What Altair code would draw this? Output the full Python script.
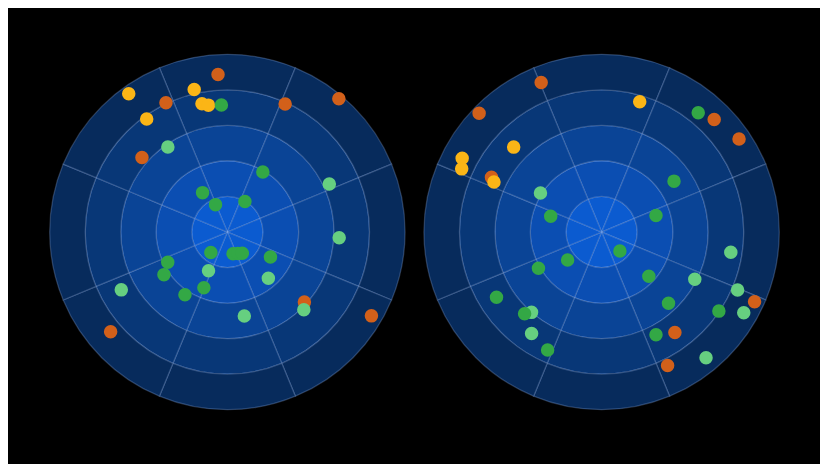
import altair as alt
import pandas as pd

# ---- grid: 8 sectors x 5 rings ----
sector_starts = [-22.5, 22.5, 67.5, 112.5, 157.5, 202.5, 247.5, 292.5]
sector_width = 45
ring_levels = [1, 2, 3, 4, 5]
ring_colors = ["#0b5bd0", "#0b4eb2", "#0a4496", "#083777", "#072b5c"]

# ---- points: angle (deg, clockwise from north), radius (ring units), group ----
groups = ["Group 1", "Group 2", "Group 3", "Group 4"]
group_colors = ["#d2601a", "#fbb516", "#66cf80", "#33a845"]

left_angle = [356.6, 334.6, 24.3, 39.9, 311.1, 132.3, 120.2, 229.5,
              324.5, 346.9, 348.8, 351.5, 324.5,
              325.0, 64.8, 92.9, 206.0, 138.5, 241.4, 135.5, 168.6,
              357.3, 30.6, 327.8, 336.6, 29.9, 218.9, 165.3, 153.8, 144.9,
              120.0, 243.2, 236.1, 202.9, 214.1]
left_radius = [4.44, 4.03, 3.95, 4.89, 3.19, 2.93, 4.69, 4.32,
               4.78, 4.12, 3.68, 3.61, 3.91,
               2.92, 3.17, 3.15, 1.21, 1.74, 3.40, 3.07, 2.41,
               3.58, 1.96, 1.31, 0.84, 0.99, 0.74, 0.63, 0.67, 0.73,
               1.40, 1.88, 2.15, 1.70, 2.13]
left_group = (["Group 1"] * 8 + ["Group 2"] * 5 + ["Group 3"] * 8 + ["Group 4"] * 14)

right_angle = [338.0, 314.1, 45.0, 55.9, 296.4, 114.5, 143.9, 153.7,
               16.3, 314.0, 297.9, 294.3, 294.9,
               302.5, 98.9, 116.9, 113.1, 119.6, 221.1, 214.6, 140.3,
               39.0, 54.9, 287.3, 73.0, 136.0, 230.5, 240.1, 133.1, 124.0,
               136.8, 238.2, 223.3, 204.6, 152.1]
right_radius = [4.54, 4.80, 4.48, 4.67, 3.46, 4.73, 3.50, 4.19,
                3.82, 3.44, 4.44, 4.32, 3.34,
                2.04, 3.68, 2.94, 4.16, 4.60, 3.00, 3.47, 4.60,
                4.32, 2.49, 1.50, 1.60, 0.74, 1.24, 2.05, 1.82, 3.98,
                2.75, 3.48, 3.16, 3.65, 3.27]
right_group = (["Group 1"] * 8 + ["Group 2"] * 5 + ["Group 3"] * 8 + ["Group 4"] * 14)

R_MAX = 5
RADIUS_PX = 179
SIZE = 2 * RADIUS_PX

grid_rows = []
for lvl in ring_levels:
    for s in sector_starts:
        grid_rows.append({"ring": lvl, "inner": lvl - 1, "outer": lvl,
                          "start": s, "end": s + sector_width})
grid_df = pd.DataFrame(grid_rows)


def panel(angles, radii, grp):
    pts = pd.DataFrame({"angle": angles, "radius": radii, "group": grp})
    rings = alt.Chart(grid_df).mark_arc(
        stroke="#a8c6ff", strokeOpacity=0.25, strokeWidth=1.3
    ).encode(
        theta=alt.Theta("start:Q", stack=None,
                        scale=alt.Scale(domain=[0, 360], range=[0, 6.283185307179586])),
        theta2="end:Q",
        radius=alt.Radius("outer:Q",
                          scale=alt.Scale(type="linear", domain=[0, R_MAX],
                                          range=[0, RADIUS_PX], zero=True, nice=False)),
        radius2="inner:Q",
        fill=alt.Fill("ring:O", scale=alt.Scale(domain=ring_levels, range=ring_colors),
                      legend=None),
    )
    dots = alt.Chart(pts).transform_calculate(
        px="datum.radius * sin(datum.angle * PI / 180)",
        py="datum.radius * cos(datum.angle * PI / 180)",
    ).mark_circle(size=185, opacity=1).encode(
        x=alt.X("px:Q", scale=alt.Scale(domain=[-R_MAX, R_MAX], nice=False, zero=False),
                axis=None),
        y=alt.Y("py:Q", scale=alt.Scale(domain=[-R_MAX, R_MAX], nice=False, zero=False),
                axis=None),
        color=alt.Color("group:N", scale=alt.Scale(domain=groups, range=group_colors),
                        legend=None),
    )
    return alt.layer(rings, dots).properties(width=SIZE, height=SIZE)


chart = alt.hconcat(
    panel(left_angle, left_radius, left_group),
    panel(right_angle, right_radius, right_group),
    spacing=19,
).properties(
    padding={"left": 39, "top": 42, "right": 38, "bottom": 50},
    background="black",
    bounds="flush",
).configure_view(stroke=None)

chart.save("out.html", embed_options={"renderer": "svg", "actions": False})
